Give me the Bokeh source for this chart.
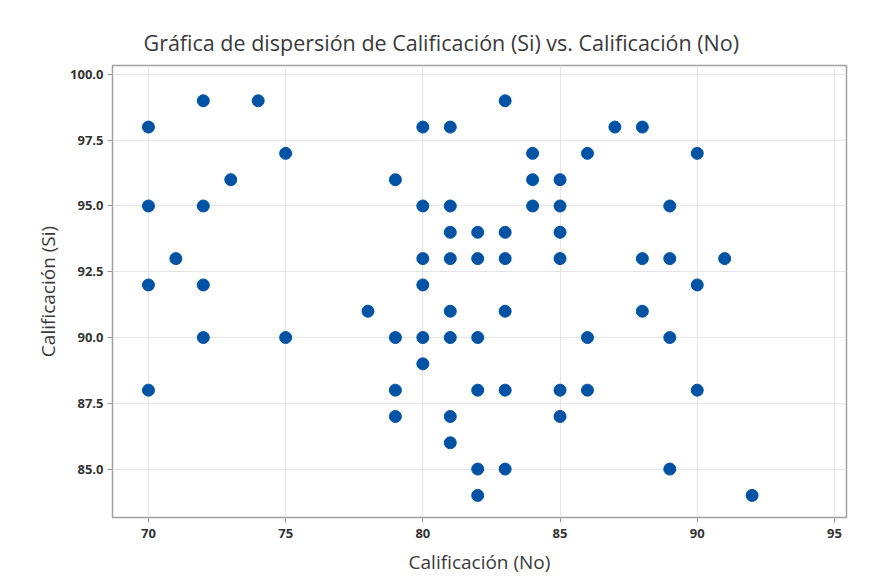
from bokeh.plotting import figure
from bokeh.embed import file_html
from bokeh.resources import INLINE
from bokeh.models import Range1d, FixedTicker, NumeralTickFormatter, ColumnDataSource

no_scores = [70, 72, 74, 75, 73, 70, 72, 71, 70, 72, 80, 81, 79, 80, 81, 81, 80, 81, 80,
             83, 87, 88, 84, 86, 90, 84, 85, 84, 85, 89, 82, 83, 85, 82, 83, 85, 88, 89, 91, 90,
             75, 72, 70, 78, 81, 79, 80, 81, 80, 79, 79, 81, 81,
             83, 88, 82, 86, 89, 82, 83, 85, 86, 90, 85, 82, 83, 89, 82, 92]
si_scores = [98, 99, 99, 97, 96, 95, 95, 93, 92, 92, 98, 98, 96, 95, 95, 94, 93, 93, 92,
             99, 98, 98, 97, 97, 97, 96, 96, 95, 95, 95, 94, 94, 94, 93, 93, 93, 93, 93, 93, 92,
             90, 90, 88, 91, 91, 90, 90, 90, 89, 88, 87, 87, 86,
             91, 91, 90, 90, 90, 88, 88, 88, 88, 88, 87, 85, 85, 85, 84, 84]
x_ticks = [70, 75, 80, 85, 90, 95]
y_ticks = [85.0, 87.5, 90.0, 92.5, 95.0, 97.5, 100.0]

title_text = "Gráfica de dispersión de Calificación (Si) vs. Calificación (No)"
FONT = "Open Sans"

p = figure(width=865, height=578, output_backend="svg", toolbar_location=None,
           x_range=Range1d(68.69, 95.44), y_range=Range1d(83.16, 100.34),
           min_border_left=112, min_border_right=19, min_border_top=65, min_border_bottom=61)

p.title.text = title_text
p.title.align = "left"
p.title.offset = 31
p.title.standoff = 17
p.title.text_font = FONT
p.title.text_font_size = "21.5px"
p.title.text_font_style = "normal"
p.title.text_color = "#3a3a3a"

src = ColumnDataSource(dict(x=no_scores, y=si_scores))
p.scatter("x", "y", source=src, size=12, fill_color="#0052A5", line_color="#0052A5")

p.xaxis.ticker = FixedTicker(ticks=x_ticks)
p.yaxis.ticker = FixedTicker(ticks=y_ticks)
p.yaxis.formatter = NumeralTickFormatter(format="0.0")

for ax in (p.xaxis, p.yaxis):
    ax.axis_line_color = None
    ax.major_tick_line_color = "#9a9a9a"
    ax.major_tick_in = 0
    ax.major_tick_out = 5
    ax.minor_tick_line_color = None
    ax.major_label_text_font = FONT
    ax.major_label_text_font_size = "13px"
    ax.major_label_text_font_style = "bold"
    ax.major_label_text_color = "#333333"
    ax.axis_label_text_font = FONT
    ax.axis_label_text_font_size = "19px"
    ax.axis_label_text_font_style = "normal"
    ax.axis_label_text_color = "#3a3a3a"

p.xaxis.axis_label = "Calificación (No)"
p.yaxis.axis_label = "Calificación (Si)"
p.xaxis.major_label_standoff = 6
p.yaxis.major_label_standoff = 4
p.xaxis.axis_label_standoff = 8
p.yaxis.axis_label_standoff = 6

p.xgrid.grid_line_color = "#e4e4e4"
p.ygrid.grid_line_color = "#e4e4e4"
p.outline_line_color = "#a0a0a0"
p.outline_line_width = 1.5
p.background_fill_color = "white"
p.border_fill_color = "white"

open("out.html", "w").write(file_html(p, INLINE))
